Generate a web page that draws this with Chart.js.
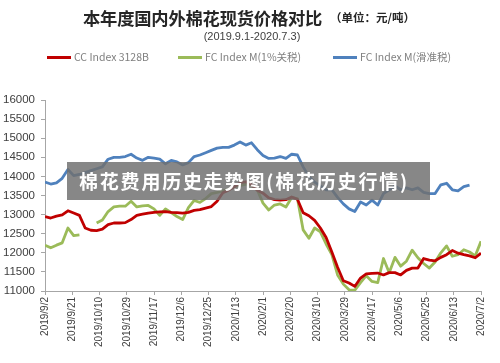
<!DOCTYPE html>
<html>
<head>
<meta charset="utf-8">
<script src="https://cdn.jsdelivr.net/npm/chart.js@4/dist/chart.umd.min.js"></script>
<style>
  html, body { margin: 0; padding: 0; background: #fff; }
  #wrap { position: relative; width: 500px; height: 363px; overflow: hidden; }
  #chart { position: absolute; left: 0; top: 0; }
  .txt { position: absolute; white-space: nowrap; font-family: "Noto Sans CJK SC", "Liberation Sans", sans-serif; }
  #title { left: 83px; top: 5px; font-size: 17.3px; font-weight: bold; color: #262626; letter-spacing: -0.2px; }
  #unit { left: 330px; top: 9px; font-size: 11.5px; font-weight: bold; color: #262626; }
  #sub { left: 0; width: 504px; text-align: center; top: 30px; font-size: 11px; color: #404040; font-family: "Liberation Sans", sans-serif; }
  .leg { position: absolute; top: 49px; height: 16px; font-size: 10.5px; color: #7f7f7f; }
  .leg i { position: absolute; left: 0; top: 7px; width: 24px; height: 3px; }
  .leg span { position: absolute; left: 27px; top: 0; white-space: nowrap; font-family: "Noto Sans CJK SC", "Liberation Sans", sans-serif; }
  #mark { position: absolute; left: 67px; top: 162px; width: 363px; height: 38px; background: rgba(112,112,112,0.84); }
  #mark span { position: absolute; left: 12px; top: 5px; font-size: 19px; font-weight: bold; color: #fff; font-family: "Noto Sans CJK SC", sans-serif; }
</style>
</head>
<body>
<div id="wrap">
  <canvas id="chart" width="500" height="363"></canvas>
  <div class="txt" id="title">本年度国内外棉花现货价格对比</div>
  <div class="txt" id="unit">（单位：元/吨）</div>
  <div class="txt" id="sub">(2019.9.1-2020.7.3)</div>
  <div id="legend"></div>
  <div id="mark"><span id="markText">棉花费用历史走势图(棉花历史行情)</span></div>
</div>
<script>
// 横轴刻度 (每 19 天一个)
const xTickLabels = [
  '2019/9/2', '2019/9/21', '2019/10/10', '2019/10/29', '2019/11/17', '2019/12/6',
  '2019/12/25', '2020/1/13', '2020/2/1', '2020/2/20', '2020/3/10', '2020/3/29',
  '2020/4/17', '2020/5/6', '2020/5/25', '2020/6/13', '2020/7/2'
];
const tickEveryDays = 19;
const sampleEveryDays = 4;

const seriesNames = ['CC Index 3128B', 'FC Index M(1%关税)', 'FC Index M(滑准税)'];
const seriesColors = ['#C00000', '#9BBB59', '#4F81BD'];

// 数值从图上读出, 每 4 天一个点
const ccIndex = [
  12950, 12910, 12960, 12990, 13100, 13040, 12980, 12650, 12590, 12580,
  12620, 12740, 12780, 12780, 12790, 12870, 12980, 13010, 13040, 13060,
  13070, 13080, 13060, 13050, 13040, 13060, 13110, 13130, 13170, 13210,
  13350, 13570, 13640, 13730, 13830, 13860, 13780, 13640, 13560, 13440,
  13390, 13380, 13390, 13460, 13400, 13050, 12970, 12850, 12650, 12400,
  12020, 11620, 11270, 11210, 11120, 11340, 11450, 11460, 11470, 11420,
  11480, 11480, 11420, 11540, 11600, 11600, 11850, 11810, 11790, 11880,
  11950, 12060, 11990, 11950, 11920, 11870, 11990
];
const fcIndex1 = [
  12200, 12130, 12200, 12260, 12650, 12450, 12470, null, null, 12780,
  12860, 13080, 13200, 13220, 13220, 13350, 13200, 13230, 13240, 13150,
  12980, 13150, 13050, 12950, 12870, 13180, 13370, 13320, 13420, 13550,
  13580, 13620, 13660, 13730, 13760, 13800, 13750, 13650, 13300, 13120,
  13250, 13280, 13200, 13450, 13420, 12600, 12380, 12650, 12550, 12230,
  11950, 11420, 11180, 11030, 11020, 11220, 11400, 11250, 11220, 11850,
  11480, 11880, 11650, 11780, 12070, 11870, 11720, 11600, 11760, 12000,
  12180, 11910, 11950, 12080, 12020, 11920, 12300
];
const fcIndexSlide = [
  13850, 13800, 13830, 13950, 14180, 14020, 14050, 14100, 14150, 14200,
  14250, 14450, 14500, 14500, 14520, 14580, 14480, 14420, 14500, 14480,
  14450, 14330, 14420, 14380, 14300, 14360, 14520, 14560, 14620, 14680,
  14740, 14760, 14760, 14820, 14900, 14820, 14880, 14700, 14550, 14470,
  14480, 14520, 14470, 14580, 14560, 14250, 14000, 13850, 13750, 13650,
  13650, 13450, 13280, 13150, 13080, 13330, 13250, 13380, 13250, 13550,
  13650, 13750, 13650, 13700, 13650, 13700, 13580, 13550, 13550, 13780,
  13820, 13650, 13620, 13730, 13770, null, 13900
];

const allSeries = [ccIndex, fcIndex1, fcIndexSlide];

// 图例
const legendPos = [47, 178, 333];
const legendEl = document.getElementById('legend');
seriesNames.forEach((name, i) => {
  const d = document.createElement('div');
  d.className = 'leg';
  d.style.left = legendPos[i] + 'px';
  d.innerHTML = '<i style="background:' + seriesColors[i] + '"></i><span>' + name + '</span>';
  legendEl.appendChild(d);
});

// 水印文字撑满约 330px
const mt = document.getElementById('markText');
const extra = (330 - mt.getBoundingClientRect().width) / mt.textContent.length;
mt.style.letterSpacing = Math.max(-1, extra).toFixed(2) + 'px';

const datasets = allSeries.map((vals, i) => ({
  label: seriesNames[i],
  data: vals.map((v, j) => ({ x: j * sampleEveryDays, y: v })),
  borderColor: seriesColors[i],
  backgroundColor: seriesColors[i],
  borderWidth: 2.8,
  pointRadius: 0,
  tension: 0,
  spanGaps: false,
  borderJoinStyle: 'round'
}));

const axisColor = '#a6a6a6';

new Chart(document.getElementById('chart').getContext('2d'), {
  type: 'line',
  data: { datasets: datasets },
  options: {
    responsive: false,
    animation: false,
    layout: { padding: { top: 100, right: 19, left: 0, bottom: 0 } },
    plugins: {
      legend: { display: false },
      title: { display: false },
      tooltip: { enabled: false }
    },
    scales: {
      x: {
        type: 'linear',
        min: 0,
        max: tickEveryDays * (xTickLabels.length - 1),
        afterFit: s => { s.height = 72; },
        afterBuildTicks: s => {
          s.ticks = xTickLabels.map((_, i) => ({ value: i * tickEveryDays }));
        },
        ticks: {
          autoSkip: false,
          minRotation: 90,
          maxRotation: 90,
          padding: 2,
          color: '#404040',
          font: { family: 'Liberation Sans', size: 10 },
          callback: v => xTickLabels[Math.round(v / tickEveryDays)]
        },
        grid: { drawOnChartArea: false, drawTicks: true, tickLength: 4, color: axisColor },
        border: { color: axisColor }
      },
      y: {
        min: 11000,
        max: 16000,
        afterFit: s => { s.width = 45; },
        ticks: {
          stepSize: 500,
          padding: 6,
          color: '#404040',
          font: { family: 'Liberation Sans', size: 11.5 },
          callback: v => String(v)
        },
        grid: { drawOnChartArea: false, drawTicks: true, tickLength: 4, color: axisColor },
        border: { color: axisColor }
      }
    }
  }
});
</script>
</body>
</html>
